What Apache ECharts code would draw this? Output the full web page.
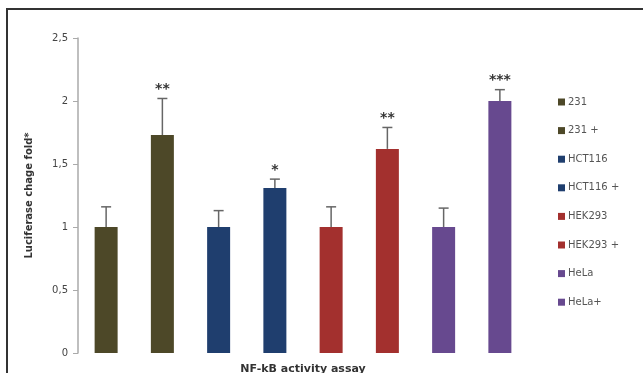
<!DOCTYPE html>
<html>
<head>
<meta charset="utf-8">
<script src="https://cdn.jsdelivr.net/npm/echarts@6/dist/echarts.min.js"></script>
<style>
html,body{margin:0;padding:0;background:#fff;}
#frame{position:absolute;left:6px;top:8px;width:637px;height:365px;border-left:2px solid #333;border-top:2px solid #333;box-sizing:border-box;}
#chart{position:absolute;left:0;top:0;width:643px;height:373px;}
</style>
</head>
<body>
<div id="frame"></div>
<div id="chart"></div>
<script>
var names = ['231','231 +','HCT116','HCT116 +','HEK293','HEK293 +','HeLa','HeLa+'];
var values = [1.0, 1.73, 1.0, 1.31, 1.0, 1.62, 1.0, 2.0];
var errTop = [1.16, 2.02, 1.13, 1.38, 1.16, 1.79, 1.15, 2.09];
var stars = ['', '**', '', '*', '', '**', '', '***'];
var colors = ['#4d4828','#4d4828','#1f3e6e','#1f3e6e','#a3302e','#a3302e','#67498f','#67498f'];
var yTicks = [0, 0.5, 1, 1.5, 2, 2.5];

var chart = echarts.init(document.getElementById('chart'));

var series = [];
for (var i = 0; i < names.length; i++) {
	var d = [];
	for (var j = 0; j < names.length; j++) d.push(j === i ? values[i] : null);
	series.push({
		name: names[i],
		type: 'bar',
		stack: 'all',
		barWidth: 23,
		itemStyle: { color: colors[i] },
		data: d
	});
}
var errData = [];
for (var k = 0; k < names.length; k++) errData.push([k, values[k], errTop[k], stars[k]]);
series.push({
	type: 'custom',
	z: 5,
	data: errData,
	renderItem: function(params, api) {
		var x = api.value(0);
		var lo = api.coord([x, api.value(1)]);
		var hi = api.coord([x, api.value(2)]);
		var st = errData[params.dataIndex][3];
		var children = [
			{ type: 'line', shape: { x1: lo[0], y1: lo[1], x2: hi[0], y2: hi[1] }, style: { stroke: '#666', lineWidth: 1.5 } },
			{ type: 'line', shape: { x1: hi[0] - 5, y1: hi[1], x2: hi[0] + 5, y2: hi[1] }, style: { stroke: '#666', lineWidth: 1.5 } }
		];
		if (st) {
			children.push({ type: 'text', style: { text: st, x: hi[0], y: hi[1] - 2, align: 'center', verticalAlign: 'bottom', fill: '#333', font: 'bold 14px "DejaVu Sans"' } });
		}
		return { type: 'group', children: children };
	}
});

var option = {
	animation: false,
	grid: { left: 78, right: 115, top: 38, bottom: 20, outerBoundsMode: 'none' },
	legend: {
		orient: 'vertical',
		left: 553,
		top: 92,
		itemWidth: 7,
		itemHeight: 7,
		itemGap: 18.6,
		icon: 'rect',
		textStyle: { fontSize: 10, color: '#555', fontFamily: 'DejaVu Sans', padding: [0, 0, 0, -2] },
		data: names
	},
	xAxis: {
		type: 'category',
		data: names,
		axisLine: { show: false },
		axisTick: { show: false },
		axisLabel: { show: false },
		name: 'NF-kB activity assay',
		nameLocation: 'middle',
		nameGap: 11,
		nameTextStyle: { fontSize: 11, fontWeight: 'bold', color: '#333', fontFamily: 'DejaVu Sans' }
	},
	yAxis: {
		type: 'value',
		min: 0,
		max: 2.5,
		interval: 0.5,
		axisLine: { show: true, lineStyle: { color: '#aaa', width: 1.5 } },
		axisTick: { show: true, inside: false, length: 5, lineStyle: { color: '#aaa' } },
		splitLine: { show: false },
		axisLabel: {
			margin: 10,
			fontSize: 10,
			color: '#444',
			fontFamily: 'DejaVu Sans',
			formatter: function(v) { return String(v).replace('.', ','); }
		},
		name: 'Luciferase chage fold*',
		nameLocation: 'middle',
		nameGap: 44,
		nameTextStyle: { fontSize: 10, fontWeight: 'bold', color: '#333', fontFamily: 'DejaVu Sans' }
	},
	series: series
};
chart.setOption(option);
</script>
</body>
</html>
